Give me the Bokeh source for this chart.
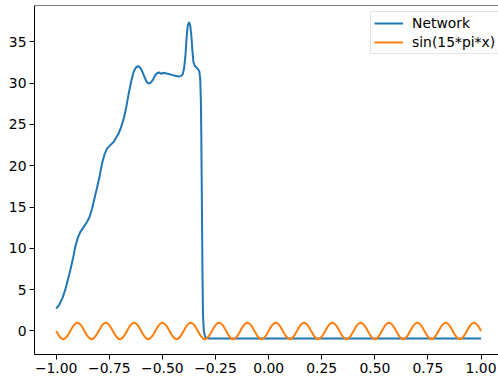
import numpy as np
from bokeh.plotting import figure
from bokeh.models import FixedTicker, Span, Range1d
from bokeh.embed import file_html
from bokeh.resources import INLINE

# ---- data ----
net_x = [-1.000, -0.985, -0.970, -0.957, -0.945, -0.933, -0.920, -0.910, -0.898, -0.886,
         -0.870, -0.855, -0.843, -0.831, -0.820, -0.808, -0.795, -0.784, -0.772, -0.760,
         -0.745, -0.729, -0.715, -0.706, -0.694, -0.682, -0.670, -0.659, -0.647, -0.635,
         -0.624, -0.615, -0.605, -0.596, -0.585, -0.575, -0.565, -0.555, -0.545, -0.535,
         -0.525, -0.515, -0.505, -0.497, -0.486, -0.470, -0.455, -0.440, -0.425, -0.412,
         -0.404, -0.398, -0.392, -0.386, -0.381, -0.375, -0.369, -0.364, -0.359, -0.354,
         -0.348, -0.340, -0.333, -0.326, -0.322, -0.319, -0.317, -0.315, -0.313, -0.311,
         -0.309, -0.305, -0.300, -0.295, -0.280, 1.000]
net_y = [2.7, 3.2, 4.0, 5.0, 6.2, 7.4, 8.9, 10.2, 11.3, 12.0,
         12.6, 13.2, 13.8, 14.8, 16.0, 17.3, 18.8, 20.3, 21.4, 22.1,
         22.5, 22.9, 23.5, 23.9, 24.7, 25.7, 27.1, 28.7, 30.2, 31.4,
         31.9, 32.05, 31.9, 31.5, 30.8, 30.2, 29.95, 30.05, 30.4, 30.9,
         31.2, 31.3, 31.1, 31.25, 31.2, 31.1, 31.0, 30.9, 30.8, 30.85,
         31.1, 31.8, 33.2, 35.5, 36.9, 37.4, 37.0, 35.8, 34.0, 32.6,
         32.1, 31.9, 31.7, 31.4, 30.5, 28.0, 24.0, 18.0, 12.0, 6.0,
         2.0, 0.0, -0.6, -0.85, -0.9, -0.9]

# one period of the orange curve (16 samples), repeated over 15 periods
sin_period = [0.0, -0.38, -0.71, -0.92, -1.0, -0.92, -0.71, -0.38,
              0.0, 0.38, 0.71, 0.92, 1.0, 0.92, 0.71, 0.38]
n_periods = 15
sin_y = sin_period * n_periods + [0.0]
sin_x = list(np.linspace(-1.0, 1.0, len(sin_y)))

x_ticks = [-1.0, -0.75, -0.5, -0.25, 0.0, 0.25, 0.5, 0.75, 1.0]
x_tick_labels = ["\u22121.00", "\u22120.75", "\u22120.50", "\u22120.25", "0.00",
                 "0.25", "0.50", "0.75", "1.00"]
y_ticks = [0, 5, 10, 15, 20, 25, 30, 35]

series_names = ["Network", "sin(15*pi*x)"]
colors = ["#1f77b4", "#ff7f0e"]

FONT = "DejaVu Sans"
FS = "13.9px"

p = figure(width=498, height=380, output_backend="svg", toolbar_location=None,
           x_range=Range1d(-1.102, 1.082), y_range=Range1d(-2.85, 39.4),
           min_border_left=34, min_border_right=0, min_border_top=5,
           min_border_bottom=26)
p.outline_line_color = None
p.xgrid.visible = False
p.ygrid.visible = False
p.background_fill_color = "white"
p.border_fill_color = "white"

p.line(net_x, net_y, color=colors[0], line_width=2, legend_label=series_names[0])
p.line(sin_x, sin_y, color=colors[1], line_width=2, legend_label=series_names[1])

for ax in (p.xaxis[0], p.yaxis[0]):
    ax.axis_line_color = "black"
    ax.axis_line_width = 1
    ax.major_tick_line_color = "black"
    ax.major_tick_line_width = 1
    ax.major_tick_out = 5
    ax.major_tick_in = 0
    ax.minor_tick_line_color = None
    ax.major_label_text_font = FONT
    ax.major_label_text_font_size = FS
    ax.major_label_text_color = "black"
    ax.major_label_standoff = 3

p.xaxis[0].ticker = FixedTicker(ticks=x_ticks)
p.xaxis[0].major_label_overrides = {t: s for t, s in zip(x_ticks, x_tick_labels)}
p.yaxis[0].ticker = FixedTicker(ticks=y_ticks)

# top spine
p.add_layout(Span(location=39.4, dimension="width", line_color="black", line_width=1))

lg = p.legend[0]
lg.location = (336, 300)
lg.margin = 0
lg.padding = 3
lg.spacing = 3
lg.glyph_width = 29
lg.glyph_height = 16
lg.label_height = 16
lg.label_standoff = 9
lg.label_text_font = FONT
lg.label_text_font_size = FS
lg.label_text_color = "black"
lg.border_line_color = "#cccccc"
lg.border_line_width = 1
lg.background_fill_color = "white"
lg.background_fill_alpha = 0.8

open("out.html", "w").write(file_html(p, INLINE))
